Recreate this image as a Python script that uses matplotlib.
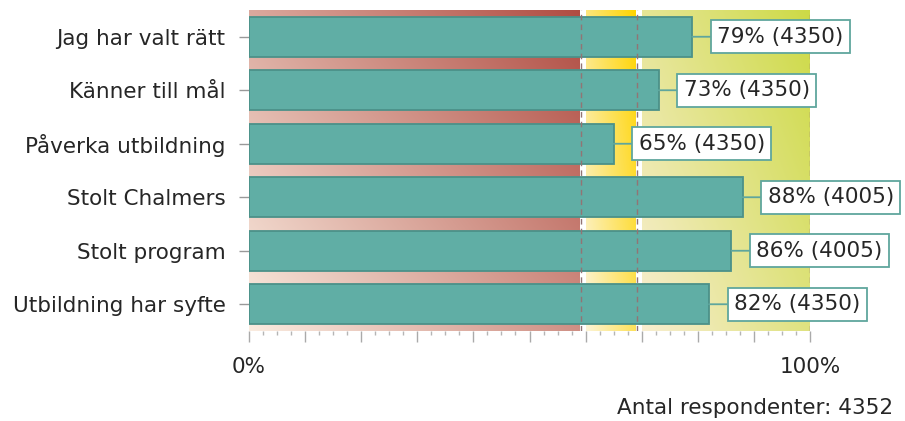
import numpy as np
import matplotlib.pyplot as plt

categories = ["Jag har valt rätt", "Känner till mål", "Påverka utbildning",
              "Stolt Chalmers", "Stolt program", "Utbildning har syfte"]
percent = [79, 73, 65, 88, 86, 82]
answers = [4350, 4350, 4350, 4005, 4005, 4350]
thresholds = [59.2, 69.2]
respondents = 4352

teal = "#60aea5"
teal_edge = "#4b9189"
text_col = "#262626"

# zone colours: (light corner, dark corner)
zones = [
    ((250, 236, 224), (176, 76, 66)),
    ((252, 244, 215), (255, 212, 0)),
    ((248, 238, 208), (205, 218, 70)),
]


def gradient(light, dark, nx=200, ny=200):
    x = np.linspace(0, 1, nx)[None, :]
    v = np.linspace(0, 1, ny)[:, None]
    t = 0.58 * x + 0.42 * (1 - v)
    light = np.array(light) / 255.0
    dark = np.array(dark) / 255.0
    return light + (dark - light) * t[..., None]


fig = plt.figure(figsize=(9.05, 4.21), dpi=100)
ax = fig.add_axes([249 / 905, 90 / 421, 561 / 905, 321 / 421])

n = len(categories)
ypos = np.arange(n)

edges = [0] + thresholds + [100]
gap = 0.9
for k, (light, dark) in enumerate(zones):
    x0 = edges[k] + (gap if k > 0 else 0)
    x1 = edges[k + 1] - (0.2 if k < len(zones) - 1 else 0)
    ax.imshow(gradient(light, dark), extent=(x0, x1, n - 0.5, -0.5),
              origin="upper", aspect="auto", zorder=1, interpolation="bilinear")

ax.barh(ypos, percent, height=0.75, color=teal, edgecolor=teal_edge,
        linewidth=1.3, zorder=3)

for x in thresholds + [100]:
    ax.axvline(x, color="#927474", lw=1, ls=(0, (4, 3)), zorder=4)

for i, (p, a) in enumerate(zip(percent, answers)):
    ax.annotate(f"{p}% ({a})", xy=(p, i), xytext=(18, 0),
                textcoords="offset points", ha="left", va="center",
                fontsize=15.5, color=text_col, zorder=6,
                bbox=dict(boxstyle="square,pad=0.3", fc="white",
                          ec="#5fa69d", lw=1.3),
                arrowprops=dict(arrowstyle="-", color="#5fa69d", lw=1.3,
                                shrinkA=0, shrinkB=0))

ax.set_xlim(0, 100)
ax.set_ylim(n - 0.5, -0.5)

ax.set_xticks(np.arange(0, 101, 10))
ax.set_xticklabels(["0%"] + [""] * 9 + ["100%"])
ax.set_xticks(np.arange(0, 100.1, 2.5), minor=True)
ax.tick_params(axis="x", which="major", length=8, width=1, color="#aaaaaa",
               pad=11, labelsize=15.5, labelcolor=text_col)
ax.tick_params(axis="x", which="minor", length=3, width=1, color="#b5b5b5")

ax.set_yticks(ypos)
ax.set_yticklabels(categories)
ax.tick_params(axis="y", length=7, width=1, color="#999999", pad=10,
               labelsize=15.5, labelcolor=text_col)

for s in ax.spines.values():
    s.set_visible(False)

fig.text(893 / 905, 1 - 408 / 421, f"Antal respondenter: {respondents}",
         ha="right", va="center", fontsize=15.5, color=text_col)

fig.savefig("out.png", dpi=100)
